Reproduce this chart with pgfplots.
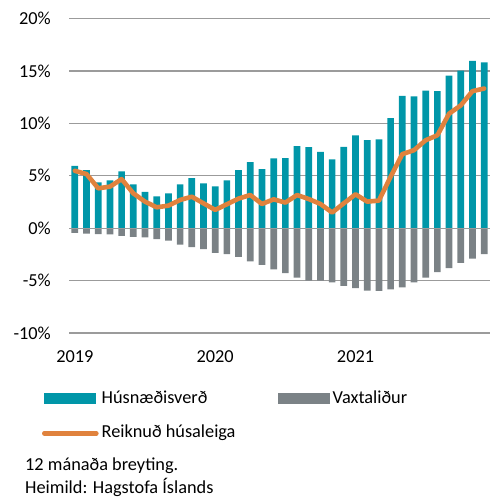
\documentclass[border=0pt]{standalone}
\usepackage{fontspec}
\setmainfont{Carlito}
\usepackage{pgfplots}
\pgfplotsset{compat=1.18}
\definecolor{hteal}{RGB}{0,150,168}
\definecolor{vgray}{RGB}{123,130,134}
\definecolor{rorange}{RGB}{224,130,61}
\definecolor{gridgray}{RGB}{155,155,155}
\newcommand{\cfont}{\fontsize{18.3bp}{22bp}\selectfont}
\begin{document}
\begin{tikzpicture}[x=1bp,y=1bp]
\path[use as bounding box] (0,0) rectangle (491,497);
\begin{axis}[
  at={(69bp,164bp)}, anchor=south west,
  scale only axis, width=421bp, height=314.5bp,
  xmin=-0.5, xmax=35.5, ymin=-10, ymax=20,
  enlargelimits=false,
  axis line style={draw=none}, tick style={draw=none},
  ytick={-10,-5,0,5,10,15,20},
  yticklabels={-10\%,-5\%,0\%,5\%,10\%,15\%,20\%},
  xtick={0,12,24}, xticklabels={2019,2020,2021},
  ymajorgrids, grid style={color=gridgray, line width=1.3bp},
  yticklabel style={font=\cfont, inner sep=0pt, anchor=east, xshift=-18bp},
  xticklabel style={font=\cfont, inner sep=0pt, anchor=north, yshift=-17.5bp},
  legend style={
    at={(-0.07,-0.1819)}, anchor=north west,
    draw=none, fill=none, inner sep=0pt, outer sep=0pt,
    legend columns=2, row sep=17.6bp, column sep=0pt,
    font=\cfont,
    nodes={inner sep=0pt, text height=13bp, text depth=4bp},
  },
  legend cell align=left,
]
\addplot[ybar, bar width=6.7bp, bar shift=0pt, fill=hteal, draw=none,
  legend image code/.code={\fill[hteal] (2.5bp,-5.35bp) rectangle (54.5bp,5.35bp);\path (0,0) (57.5bp,0);}]
coordinates {
(0,5.95)(1,5.54)(2,4.37)(3,4.56)(4,5.41)(5,4.18)(6,3.45)(7,3.04)(8,3.32)(9,4.18)
(10,4.78)(11,4.27)(12,3.99)(13,4.56)(14,5.54)(15,6.30)(16,5.63)(17,6.65)(18,6.68)(19,7.82)
(20,7.72)(21,7.28)(22,6.55)(23,7.75)(24,8.86)(25,8.39)(26,8.48)(27,10.5)(28,12.63)(29,12.56)
(30,13.13)(31,13.07)(32,14.56)(33,15.03)(34,15.95)(35,15.82)};
\addlegendentry{\makebox[173.5bp][l]{Húsnæðisverð}}
\addplot[ybar, bar width=6.7bp, bar shift=0pt, fill=vgray, draw=none,
  legend image code/.code={\fill[vgray] (2.5bp,-5.35bp) rectangle (54.5bp,5.35bp);\path (0,0) (57.5bp,0);}]
coordinates {
(0,-0.45)(1,-0.51)(2,-0.57)(3,-0.60)(4,-0.73)(5,-0.83)(6,-0.89)(7,-1.05)(8,-1.18)(9,-1.56)
(10,-1.82)(11,-2.00)(12,-2.36)(13,-2.48)(14,-2.74)(15,-3.18)(16,-3.50)(17,-3.92)(18,-4.30)(19,-4.71)
(20,-5.00)(21,-5.00)(22,-5.16)(23,-5.50)(24,-5.73)(25,-5.96)(26,-5.99)(27,-5.83)(28,-5.64)(29,-5.16)
(30,-4.71)(31,-4.20)(32,-3.82)(33,-3.31)(34,-2.90)(35,-2.48)};
\addlegendentry{Vaxtaliður}
\addplot[gridgray, line width=1.3bp, forget plot] coordinates {(-0.5,0) (35.5,0)};
\addplot[rorange, line width=4.6bp, line join=round, line cap=round, mark=none,
  legend image code/.code={\draw[rorange, line width=4.6bp, line cap=round] (2.5bp,0) -- (54.5bp,0);\path (0,0) (57.5bp,0);}]
coordinates {
(0,5.47)(1,5.16)(2,3.80)(3,3.96)(4,4.68)(5,3.32)(6,2.53)(7,1.99)(8,2.15)(9,2.69)
(10,3.00)(11,2.37)(12,1.74)(13,2.28)(14,2.82)(15,3.16)(16,2.31)(17,2.75)(18,2.44)(19,3.16)
(20,2.78)(21,2.31)(22,1.49)(23,2.37)(24,3.23)(25,2.53)(26,2.63)(27,4.90)(28,7.06)(29,7.44)
(30,8.39)(31,8.86)(32,10.92)(33,11.71)(34,13.07)(35,13.32)};
\addlegendentry{Reiknuð húsaleiga}
\end{axis}
\node[anchor=base west, inner sep=0pt, font=\cfont] at (25,26.3) {12 mánaða breyting.};
\node[anchor=base west, inner sep=0pt, font=\cfont] at (25,3.7) {Heimild: Hagstofa Íslands};
\end{tikzpicture}
\end{document}
